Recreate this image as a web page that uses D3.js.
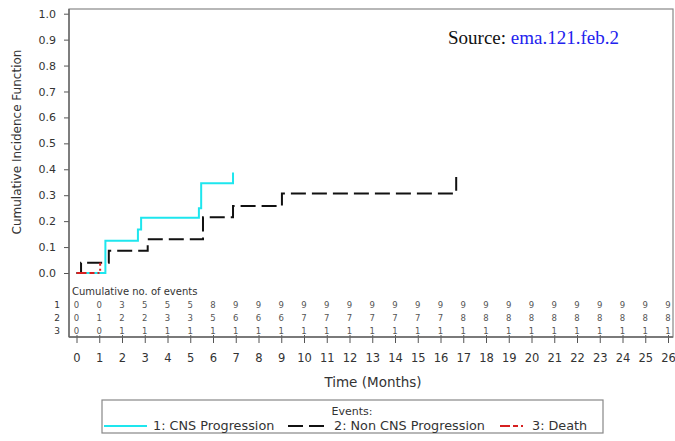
<!DOCTYPE html>
<html>
<head>
<meta charset="utf-8">
<script src="https://cdn.jsdelivr.net/npm/d3@7"></script>
<style>
  html, body { margin: 0; padding: 0; background: #fff; }
  svg { display: block; }
</style>
</head>
<body>
<svg id="chart" width="675" height="441"></svg>
<script>
// Cumulative incidence by event type (step functions)
const cnsTime     = [0, 1.27, 2.70, 2.84, 5.38, 5.48, 6.88];
const cnsValue    = [0, 0.124, 0.168, 0.213, 0.25, 0.346, 0.388];
const nonCnsTime  = [0, 0.20, 1.42, 3.13, 5.56, 6.88, 9.03, 16.69];
const nonCnsValue = [0, 0.040, 0.086, 0.130, 0.215, 0.258, 0.307, 0.370];
const deathTime   = [0, 1.04];
const deathValue  = [0, 0.040];

// Axis ticks
const xTicks = [0,1,2,3,4,5,6,7,8,9,10,11,12,13,14,15,16,17,18,19,20,21,22,23,24,25,26];
const yTicks = [0.0,0.1,0.2,0.3,0.4,0.5,0.6,0.7,0.8,0.9,1.0];

// Cumulative number of events at each month, per event type
const eventsCns    = [0,0,3,5,5,5,8,9,9,9,9,9,9,9,9,9,9,9,9,9,9,9,9,9,9,9,9];
const eventsNonCns = [0,1,2,2,3,3,5,6,6,6,7,7,7,7,7,7,7,8,8,8,8,8,8,8,8,8,8];
const eventsDeath  = [0,0,1,1,1,1,1,1,1,1,1,1,1,1,1,1,1,1,1,1,1,1,1,1,1,1,1];
const rowLabels    = ["1", "2", "3"];

const legendLabels = ["1: CNS Progression", "2: Non CNS Progression", "3: Death"];

const svg = d3.select("#chart");
const font = "'DejaVu Sans', Verdana, sans-serif";

const frame = { left: 69, top: 9, right: 673, bottom: 337 };
const x = d3.scaleLinear().domain([0, 26]).range([76.5, 668]);
const y = d3.scaleLinear().domain([0, 1]).range([273, 13.7]);

// Plot frame
svg.append("rect")
  .attr("x", frame.left).attr("y", frame.top)
  .attr("width", frame.right - frame.left).attr("height", frame.bottom - frame.top)
  .attr("fill", "none").attr("stroke", "#888").attr("stroke-width", 1.2);

// Y axis
const yAxis = svg.append("g")
  .attr("transform", `translate(${frame.left},0)`)
  .call(d3.axisLeft(y).tickValues(yTicks).tickFormat(d3.format(".1f")).tickSize(5).tickPadding(8));
yAxis.select(".domain").remove();
yAxis.selectAll("line").attr("stroke", "#555");
yAxis.selectAll("text").attr("font-family", font).attr("font-size", 11).attr("fill", "#333");
svg.append("line")
  .attr("x1", frame.left).attr("x2", frame.left)
  .attr("y1", frame.top).attr("y2", frame.bottom)
  .attr("stroke", "#666").attr("stroke-width", 1.4);

// X axis
const xAxis = svg.append("g")
  .attr("transform", `translate(0,${frame.bottom})`)
  .call(d3.axisBottom(x).tickValues(xTicks).tickFormat(d3.format("d")).tickSize(6).tickPadding(11));
xAxis.select(".domain").remove();
xAxis.selectAll("line").attr("stroke", "#555").attr("y1", -2);
xAxis.selectAll("text").attr("font-family", font).attr("font-size", 11.5).attr("fill", "#333");
svg.append("line")
  .attr("x1", frame.left).attr("x2", frame.right)
  .attr("y1", frame.bottom).attr("y2", frame.bottom)
  .attr("stroke", "#666").attr("stroke-width", 1.4);

// Axis titles
svg.append("text")
  .attr("transform", "translate(21,142) rotate(-90)")
  .attr("text-anchor", "middle")
  .attr("font-family", font).attr("font-size", 12).attr("fill", "#333")
  .text("Cumulative Incidence Function");
svg.append("text")
  .attr("x", 373).attr("y", 387)
  .attr("text-anchor", "middle")
  .attr("font-family", font).attr("font-size", 13.5).attr("fill", "#333")
  .text("Time (Months)");

// Curves
const line = d3.line().x(d => x(d[0])).y(d => y(d[1])).curve(d3.curveStepAfter);
const series = [
  { t: cnsTime, v: cnsValue, color: "#1ee6ee", dash: null, width: 2 },
  { t: nonCnsTime, v: nonCnsValue, color: "#111", dash: "15,6", width: 2 },
  { t: deathTime, v: deathValue, color: "#d62020", dash: "10,3,5,3,2,3,2,3", width: 2 }
];
series.forEach(s => {
  svg.append("path")
    .datum(s.t.map((t, i) => [t, s.v[i]]))
    .attr("d", line)
    .attr("fill", "none")
    .attr("stroke", s.color)
    .attr("stroke-width", s.width)
    .attr("stroke-dasharray", s.dash);
});

// Source annotation
const src = svg.append("text")
  .attr("x", 448).attr("y", 44)
  .attr("font-family", "'Liberation Serif', 'Times New Roman', serif")
  .attr("font-size", 19);
src.append("tspan").attr("fill", "#111").text("Source: ");
src.append("tspan").attr("fill", "#2222ee").text("ema.121.feb.2");

// Cumulative events table
svg.append("text")
  .attr("x", 72).attr("y", 295)
  .attr("font-family", font).attr("font-size", 10).attr("fill", "#333")
  .text("Cumulative no. of events");

const rows = [eventsCns, eventsNonCns, eventsDeath];
const rowY = [305, 318, 331];
rows.forEach((vals, r) => {
  svg.append("text")
    .attr("x", 57).attr("y", rowY[r]).attr("dy", "0.35em")
    .attr("text-anchor", "middle")
    .attr("font-family", font).attr("font-size", 9).attr("fill", "#333")
    .text(rowLabels[r]);
  svg.append("g").selectAll("text")
    .data(vals)
    .join("text")
    .attr("x", (d, i) => x(xTicks[i]))
    .attr("y", rowY[r]).attr("dy", "0.35em")
    .attr("text-anchor", "middle")
    .attr("font-family", font).attr("font-size", 8.5).attr("fill", "#555")
    .text(d => d);
});

// Legend
const lg = svg.append("g");
lg.append("rect")
  .attr("x", 102).attr("y", 400).attr("width", 501).attr("height", 33)
  .attr("fill", "#fff").attr("stroke", "#888").attr("stroke-width", 1.2);
lg.append("text")
  .attr("x", 352).attr("y", 415)
  .attr("text-anchor", "middle")
  .attr("font-family", font).attr("font-size", 11).attr("fill", "#333")
  .text("Events:");
const legendItems = [
  { x0: 104, x1: 147, tx: 153 },
  { x0: 288, x1: 325, tx: 334 },
  { x0: 500, x1: 524, tx: 532 }
];
legendItems.forEach((it, i) => {
  const s = series[i];
  lg.append("line")
    .attr("x1", it.x0).attr("x2", it.x1).attr("y1", 426).attr("y2", 426)
    .attr("stroke", s.color).attr("stroke-width", 2)
    .attr("stroke-dasharray", s.dash);
  lg.append("text")
    .attr("x", it.tx).attr("y", 426).attr("dy", "0.35em")
    .attr("font-family", font).attr("font-size", 12.8).attr("fill", "#333")
    .text(legendLabels[i]);
});
</script>
</body>
</html>
